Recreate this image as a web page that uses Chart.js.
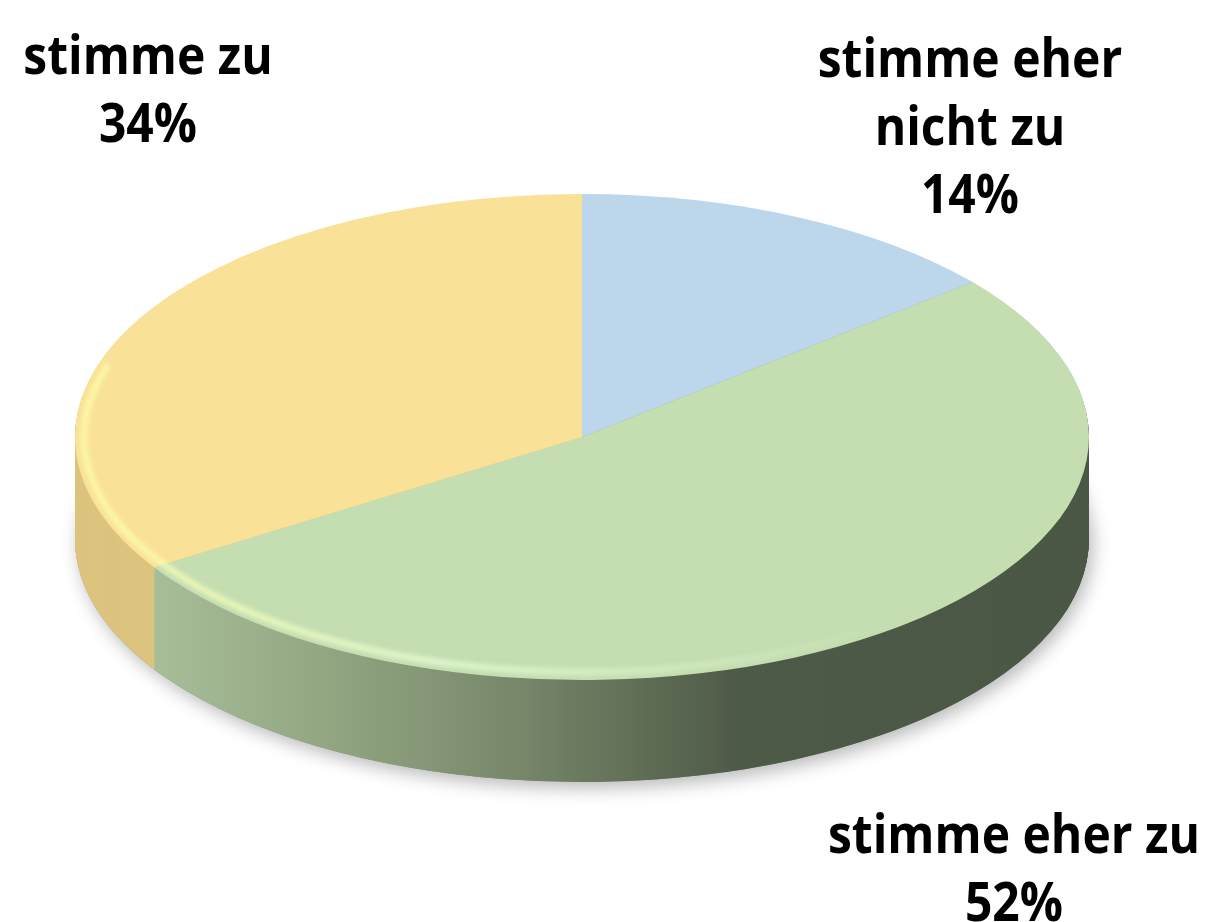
<!DOCTYPE html>
<html><head><meta charset="utf-8">
<script src="https://cdn.jsdelivr.net/npm/chart.js@4.4.1/dist/chart.umd.min.js"></script>
<style>html,body{margin:0;padding:0;background:#fff;overflow:hidden}#wrap{width:1209px;height:922px;position:relative}</style>
</head><body><div id="wrap"><canvas id="c"></canvas></div>
<script>
// ---- data ----
const categoryLines = [['stimme eher', 'nicht zu'], ['stimme eher zu'], ['stimme zu']];
const categories = categoryLines.map(l => l.join(' '));
const values = [14, 52, 34];

// ---- style ----
const faceColors = ['#bcd6ec', '#c4ddb1', '#f9e297'];
const sideColors = ['#8fa6bc', 'gradient', '#dcc47f'];
const greenSideStops = [[140, '#a9bf9a'], [320, '#93a783'], [500, '#7a8b6d'], [620, '#637259'], [740, '#4e5a48'], [1100, '#4b5745']];
const G = { ex: 582, ey: 437, rx: 507, ry: 243, depth: 102 };
const labelAnchors = [{ x: 970, y: 77 }, { x: 1014, y: 853 }, { x: 148, y: 74 }];
const lineGap = 68;
const labelFont = { family: '"Open Sans", sans-serif', size: 54, refText: 'stimme eher zu', refWidth: 372 };

const pie3d = {
  id: 'pie3d',
  beforeDatasetsDraw(chart) {
    const ctx = chart.ctx;
    const arcs = chart.getDatasetMeta(0).data;
    if (!arcs.length) return false;
    const cx = arcs[0].x, cy = arcs[0].y, R = arcs[0].outerRadius;
    const sx = G.rx / R, sy = G.ry / R;
    const toLocalX = X => cx + (X - G.ex) / sx;
    const applyT = dy => { ctx.translate(G.ex, G.ey + dy); ctx.scale(sx, sy); ctx.translate(-cx, -cy); };
    const withColor = (arc, color) => {
      const o = Object.create(arc);
      o.options = Object.assign({}, arc.options, { backgroundColor: color, borderWidth: 0 });
      return o;
    };
    const x0 = greenSideStops[0][0], x1 = greenSideStops[greenSideStops.length - 1][0];
    const grad = ctx.createLinearGradient(toLocalX(x0), 0, toLocalX(x1), 0);
    greenSideStops.forEach(([x, c]) => grad.addColorStop((x - x0) / (x1 - x0), c));

    // shadow pass
    ctx.save();
    ctx.shadowColor = 'rgba(0,0,0,0.28)';
    ctx.shadowBlur = 18;
    ctx.shadowOffsetX = 4;
    ctx.shadowOffsetY = 6;
    applyT(G.depth);
    arcs.forEach(a => withColor(a, '#888').draw(ctx));
    ctx.restore();

    const order = arcs.map((a, i) => i).sort((a, b) =>
      Math.sin((arcs[a].startAngle + arcs[a].endAngle) / 2) - Math.sin((arcs[b].startAngle + arcs[b].endAngle) / 2));
    order.forEach(i => {
      const fill = sideColors[i] === 'gradient' ? grad : sideColors[i];
      const el = withColor(arcs[i], fill);
      for (let d = G.depth; d >= 1; d--) {
        ctx.save(); applyT(d); el.draw(ctx); ctx.restore();
      }
    });

    // top face
    ctx.save(); applyT(0);
    arcs.forEach((a, i) => withColor(a, faceColors[i]).draw(ctx));
    ctx.restore();

    // rim highlight
    ctx.save();
    ctx.beginPath();
    ctx.ellipse(G.ex, G.ey, G.rx, G.ry, 0, 0, Math.PI * 2);
    ctx.clip();
    const hg = ctx.createLinearGradient(80, 0, 900, 0);
    hg.addColorStop(0, 'rgba(255,255,170,0.8)');
    hg.addColorStop(0.45, 'rgba(230,255,215,0.8)');
    hg.addColorStop(0.8, 'rgba(230,255,215,0.3)');
    hg.addColorStop(1, 'rgba(230,255,215,0)');
    ctx.filter = 'blur(2.5px)';
    ctx.strokeStyle = hg;
    ctx.lineWidth = 6;
    ctx.beginPath();
    ctx.ellipse(G.ex, G.ey, G.rx - 9, G.ry - 8, 0, Math.PI * 0.3, Math.PI * 1.1);
    ctx.stroke();
    ctx.restore();
    return false;
  },
  afterDraw(chart) {
    const ctx = chart.ctx;
    ctx.save();
    ctx.font = `bold ${labelFont.size}px ${labelFont.family}`;
    const k = labelFont.refWidth / ctx.measureText(labelFont.refText).width;
    ctx.fillStyle = '#000';
    ctx.textAlign = 'center';
    ctx.textBaseline = 'alphabetic';
    categoryLines.forEach((lines, i) => {
      const all = lines.concat([values[i] + '%']);
      all.forEach((t, j) => {
        ctx.save();
        ctx.translate(labelAnchors[i].x, labelAnchors[i].y + j * lineGap);
        ctx.scale(k, 1);
        ctx.fillText(t, 0, 0);
        ctx.restore();
      });
    });
    ctx.restore();
  }
};

new Chart(document.getElementById('c'), {
  type: 'pie',
  data: { labels: categories, datasets: [{ data: values, backgroundColor: faceColors, borderWidth: 0 }] },
  options: {
    responsive: true, maintainAspectRatio: false, animation: false,
    layout: { padding: 0 },
    plugins: { legend: { display: false }, tooltip: { enabled: false } }
  },
  plugins: [pie3d]
});
</script></body></html>
